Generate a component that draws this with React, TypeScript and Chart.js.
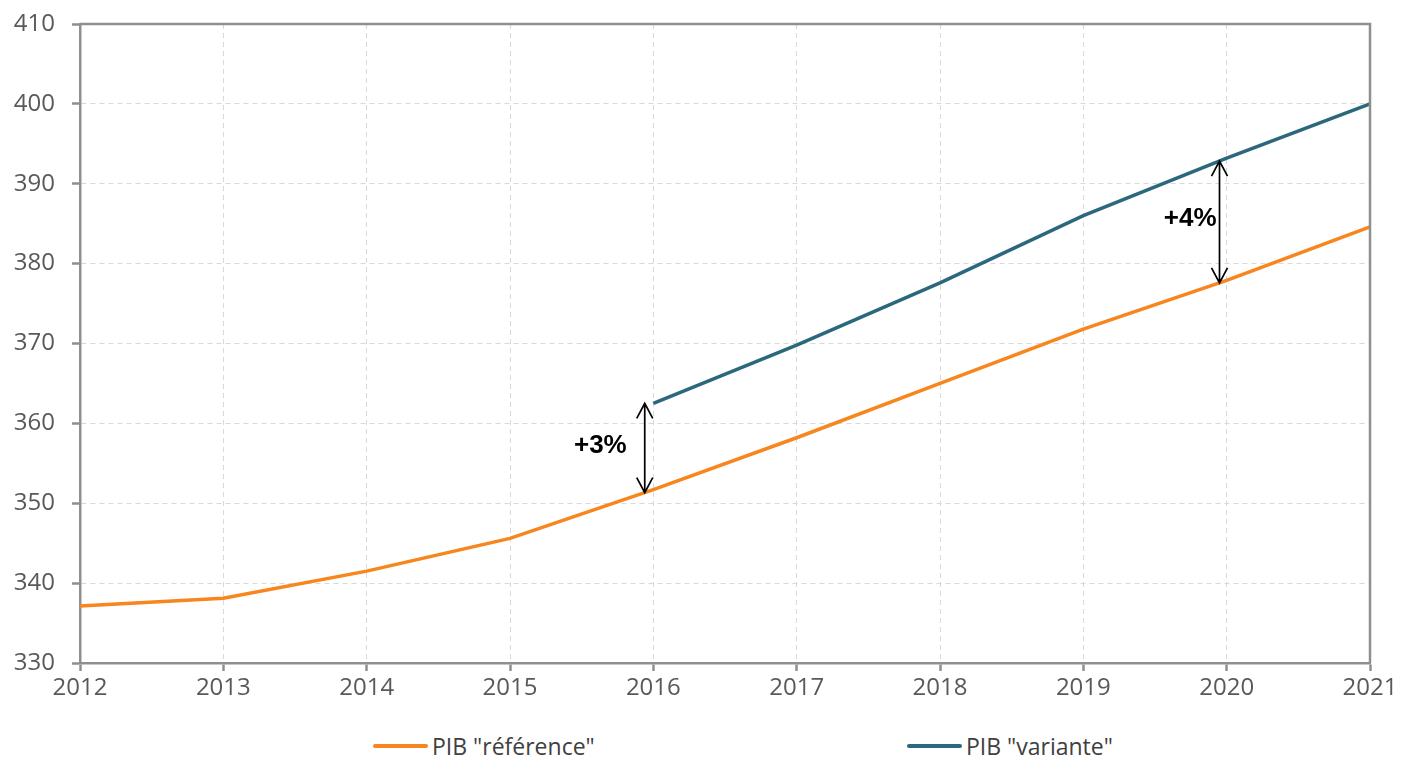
import React, { useEffect, useRef } from "react";
import { Chart, registerables } from "chart.js";

Chart.register(...registerables);

const years = ["2012", "2013", "2014", "2015", "2016", "2017", "2018", "2019", "2020", "2021"];
const pibReference = [337.15, 338.1, 341.5, 345.6, 351.7, 358.2, 365.0, 371.8, 377.9, 384.6];
const pibVariante = [null, null, null, null, 362.5, 369.8, 377.6, 386.0, 393.2, 400.0];
const seriesNames = ['PIB "référence"', 'PIB "variante"'];
const seriesColors = ["#F7861E", "#2B687D"];
const gapIndices = [4, 8];
const gapLabels = ["+3%", "+4%"];

const gapStyle = [
  { dx: -0.06, textGap: 18, textDy: -2 },
  { dx: -0.05, textGap: 3, textDy: -3 },
];

const FONT = "'Open Sans', 'Noto Sans', sans-serif";
const AXIS = "#8f8f8f";
const GRID = "#d9d9d9";

function valueAt(arr: (number | null)[], pos: number): number {
  const i = Math.floor(pos);
  const f = pos - i;
  const a = arr[i];
  const b = arr[i + 1];
  if (a == null) return (b as number) ?? 0;
  if (b == null || f === 0) return a;
  return a + (b - a) * f;
}

const framePlugin = {
  id: "frame",
  afterDraw(chart: any) {
    const { ctx, chartArea } = chart;
    ctx.save();
    ctx.setLineDash([]);
    ctx.strokeStyle = AXIS;
    ctx.lineWidth = 2.5;
    ctx.beginPath();
    ctx.moveTo(chartArea.left, chartArea.top);
    ctx.lineTo(chartArea.right, chartArea.top);
    ctx.lineTo(chartArea.right, chartArea.bottom);
    ctx.stroke();
    ctx.restore();
  },
};

const gapPlugin = {
  id: "gaps",
  afterDatasetsDraw(chart: any) {
    const { ctx } = chart;
    const xs = chart.scales.x;
    const ys = chart.scales.y;
    ctx.save();
    ctx.setLineDash([]);
    gapIndices.forEach((idx, k) => {
      const st = gapStyle[k];
      const pos = idx + st.dx;
      const step = xs.getPixelForValue(1) - xs.getPixelForValue(0);
      const x = xs.getPixelForValue(idx) + st.dx * step;
      const lo = valueAt(pibReference, pos);
      const hi = valueAt(pibVariante, pos);
      const yLo = ys.getPixelForValue(lo);
      const yHi = ys.getPixelForValue(hi);
      ctx.strokeStyle = "#000";
      ctx.lineWidth = 1.7;
      ctx.beginPath();
      ctx.moveTo(x, yHi);
      ctx.lineTo(x, yLo);
      ctx.moveTo(x - 8, yHi + 15);
      ctx.lineTo(x, yHi);
      ctx.lineTo(x + 8, yHi + 15);
      ctx.moveTo(x - 8, yLo - 15);
      ctx.lineTo(x, yLo);
      ctx.lineTo(x + 8, yLo - 15);
      ctx.stroke();
      ctx.fillStyle = "#000";
      ctx.font = "bold 26px 'Liberation Sans', Arial, sans-serif";
      ctx.textAlign = "right";
      ctx.textBaseline = "middle";
      ctx.fillText(gapLabels[k], x - st.textGap, (yHi + yLo) / 2 + st.textDy);
    });
    ctx.restore();
  },
};

export default function App() {
  const ref = useRef<HTMLCanvasElement | null>(null);

  useEffect(() => {
    if (!ref.current) return;
    const gridOpts: any = {
      color: GRID,
      lineWidth: 1,
      drawTicks: true,
      tickLength: 8,
      tickColor: AXIS,
      tickWidth: 2.5,
      tickBorderDash: [],
    };
    const chart = new Chart(ref.current, {
      type: "line",
      data: {
        labels: years,
        datasets: [
          {
            label: seriesNames[0],
            data: pibReference,
            borderColor: seriesColors[0],
            backgroundColor: seriesColors[0],
            borderWidth: 3.5,
            pointRadius: 0,
            tension: 0,
          },
          {
            label: seriesNames[1],
            data: pibVariante as any,
            borderColor: seriesColors[1],
            backgroundColor: seriesColors[1],
            borderWidth: 3.5,
            pointRadius: 0,
            tension: 0,
          },
        ],
      },
      options: {
        animation: false,
        responsive: false,
        layout: { padding: { top: 2, right: 0, bottom: 8, left: 0 } },
        plugins: {
          legend: { display: false },
          tooltip: { enabled: false },
        },
        scales: {
          x: {
            offset: false,
            grid: gridOpts,
            border: { display: true, color: AXIS, width: 2.5, dash: [5, 4] } as any,
            ticks: {
              color: "#595959",
              font: { family: FONT, size: 24 },
              padding: 3,
              maxRotation: 0,
              autoSkip: false,
            },
            afterFit: (s: any) => {
              s.height = 37;
              s.paddingLeft = 0;
              s.paddingRight = 28;
            },
          },
          y: {
            min: 330,
            max: 410,
            grid: gridOpts,
            border: { display: true, color: AXIS, width: 2.5, dash: [5, 4] } as any,
            ticks: {
              stepSize: 10,
              color: "#595959",
              font: { family: FONT, size: 24 },
              padding: 17,
            },
            afterFit: (s: any) => {
              s.width = 72;
              s.paddingTop = 16;
              s.paddingBottom = 14;
            },
          },
        },
      },
      plugins: [framePlugin, gapPlugin],
    });
    return () => chart.destroy();
  }, []);

  const legendLeft = [365, 899];

  return (
    <div style={{ position: "relative", width: 1386, height: 753 }}>
      <canvas ref={ref} width={1390} height={700} style={{ display: "block" }} />
      {seriesNames.map((name, i) => (
        <div
          key={name}
          style={{
            position: "absolute",
            left: legendLeft[i],
            top: 722,
            height: 32,
            display: "flex",
            alignItems: "center",
            fontFamily: FONT,
            fontSize: 23,
            lineHeight: "32px",
            color: "#404040",
            whiteSpace: "nowrap",
          }}
        >
          <span
            style={{
              display: "inline-block",
              width: 55,
              height: 4,
              background: seriesColors[i],
              marginRight: 4,
              borderRadius: 2,
            }}
          />
          <span>{name}</span>
        </div>
      ))}
    </div>
  );
}
